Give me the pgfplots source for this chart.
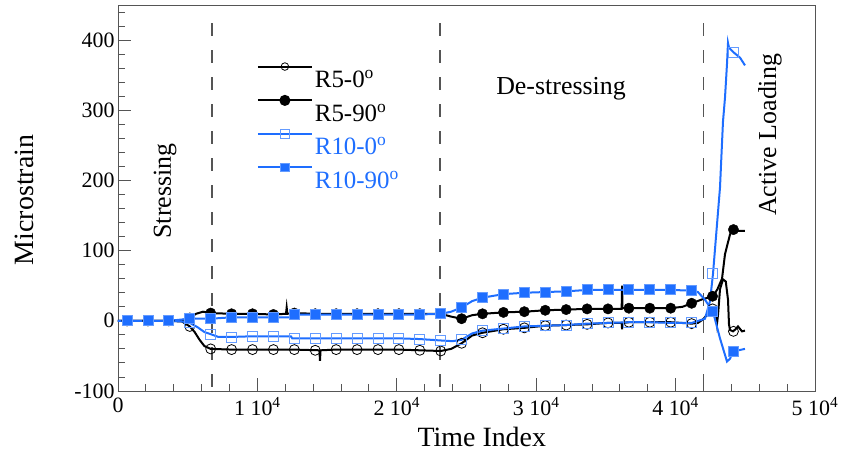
\documentclass[border=0pt]{standalone}
\usepackage{fontspec}
\setmainfont{Liberation Serif}
\usepackage{pgfplots}
\pgfplotsset{compat=1.18}
\definecolor{myblue}{RGB}{30,110,255}
\definecolor{lblue}{RGB}{100,155,255}
\definecolor{axgray}{RGB}{85,85,85}
\begin{document}
\begin{tikzpicture}
\begin{axis}[
  scale only axis, width=697bp, height=386bp,
  xmin=0, xmax=50000, ymin=-100, ymax=450,
  axis line style={axgray, line width=0.9bp},
  xtick={0,10000,20000,30000,40000,50000},
  xticklabels={0, 1 10\textsuperscript{4}, 2 10\textsuperscript{4}, 3 10\textsuperscript{4}, 4 10\textsuperscript{4}, 5 10\textsuperscript{4}},
  ytick={-100,0,100,200,300,400},
  yticklabels={-100,0,100,200,300,400},
  minor xtick={2000,4000,...,48000},
  minor ytick={-80,-60,...,440},
  xtick pos=bottom, ytick pos=left,
  tick align=inside,
  major tick length=13bp, minor tick length=7bp,
  tick style={axgray, line width=0.9bp},
  ticklabel style={font=\fontsize{22}{26}\selectfont},
  xticklabel style={yshift=-3bp},
  scaled x ticks=false,
  xlabel={Time Index}, ylabel={Microstrain},
  label style={font=\fontsize{28}{32}\selectfont},
  xlabel style={at={(axis description cs:0.522,-0.119)}, anchor=center},
  ylabel style={at={(axis description cs:-0.134,0.495)}, anchor=center},
  legend style={draw=none, fill=none, at={(axis cs:9950,368)}, anchor=north west,
    font=\fontsize{25}{29}\selectfont, row sep=5bp, inner sep=0pt,
    /tikz/every even column/.append style={column sep=13bp}},
  legend cell align=left,
  legend image code/.code={\draw[#1, mark repeat=2, mark phase=2] plot coordinates {(0bp,13bp) (27bp,13bp) (54bp,13bp)};},
  clip=false,
]
\coordinate (SW) at (rel axis cs:0,0);
% dashed phase separators
\addplot[axgray, line width=1.2bp, dash pattern=on 13bp off 14bp, forget plot] coordinates {(6750,-94) (6750,437)};
\addplot[axgray, line width=1.2bp, dash pattern=on 13bp off 14bp, forget plot] coordinates {(23100,-94) (23100,437)};
\addplot[axgray, line width=1.2bp, dash pattern=on 13bp off 14bp, forget plot] coordinates {(42000,-94) (42000,437)};

% R5-0
\addplot[black, line width=2bp, forget plot] table[row sep=\\] {
x y \\ 0 0 \\ 650 0 \\ 2150 0 \\ 3650 0 \\ 4600 -1 \\ 5150 -8 \\ 5500 -16 \\ 5850 -27 \\ 6200 -36 \\ 6650 -40 \\
8150 -41 \\ 9650 -41 \\ 11150 -41 \\ 12650 -41 \\ 14450 -42 \\ 14490 -57 \\ 14530 -42 \\ 15650 -41 \\ 17150 -41 \\
18650 -41 \\ 20150 -41 \\ 21650 -42 \\ 23150 -43 \\ 23900 -40 \\ 24650 -32 \\ 25400 -21 \\ 26150 -17 \\ 27650 -12 \\
29150 -10 \\ 30650 -7 \\ 32150 -6 \\ 33650 -5 \\ 35150 -3 \\ 36130 -3 \\ 36160 -12 \\ 36190 -3 \\ 36650 -2 \\
38150 -2 \\ 39650 -2 \\ 41150 -4 \\ 41600 -3 \\ 41965 2 \\ 42400 12 \\ 42683 18 \\ 42900 9 \\ 42970 -4 \\
43050 10 \\ 43185 45 \\ 43400 59 \\ 43600 56 \\ 43760 30 \\ 43830 -5 \\ 43902 -13 \\ 44118 -15 \\ 44300 -12 \\
44476 -8 \\ 44763 -15 \\ 44978 -14 \\
};
\addplot[only marks, mark=o, mark size=5bp, mark options={black, line width=0.8bp}, forget plot] table[row sep=\\] {
x y \\ 650 0 \\ 2150 0 \\ 3650 0 \\ 5150 -8 \\ 6650 -40 \\ 8150 -41 \\ 9650 -41 \\ 11150 -41 \\ 12650 -41 \\
14150 -42 \\ 15650 -41 \\ 17150 -41 \\ 18650 -41 \\ 20150 -41 \\ 21650 -42 \\ 23150 -43 \\ 24650 -32 \\
26150 -17 \\ 27650 -12 \\ 29150 -10 \\ 30650 -7 \\ 32150 -6 \\ 33650 -5 \\ 35150 -3 \\ 36650 -2 \\ 38150 -2 \\
39650 -2 \\ 41150 -4 \\ 42650 17 \\ 44150 -15 \\
};

% R5-90
\addplot[black, line width=2bp, forget plot] table[row sep=\\] {
x y \\ 0 0 \\ 650 0 \\ 2150 0 \\ 3650 0 \\ 4600 1 \\ 5150 4 \\ 5600 10 \\ 6100 13 \\ 6650 11 \\ 8150 10 \\
9650 10 \\ 11150 9 \\ 12050 10 \\ 12100 19 \\ 12150 10 \\ 12650 11 \\ 14150 10 \\ 15650 10 \\ 17150 10 \\
18650 10 \\ 20150 10 \\ 21650 10 \\ 23150 10 \\ 23900 6 \\ 24650 3 \\ 25400 8 \\ 26150 10 \\ 27650 12 \\
29150 13 \\ 30650 15 \\ 32150 16 \\ 33650 17 \\ 35150 17 \\ 36130 17 \\ 36160 50 \\ 36190 18 \\ 36650 18 \\
38150 18 \\ 39650 18 \\ 40500 20 \\ 41150 25 \\ 41965 31 \\ 42683 35 \\ 43000 45 \\ 43330 60 \\ 43544 95 \\
43902 123 \\ 44118 130 \\ 44400 128 \\ 44978 128 \\
};
\addplot[only marks, mark=*, mark size=5.2bp, mark options={black}, forget plot] table[row sep=\\] {
x y \\ 650 0 \\ 2150 0 \\ 3650 0 \\ 5150 4 \\ 6650 11 \\ 8150 10 \\ 9650 10 \\ 11150 9 \\ 12650 11 \\
14150 10 \\ 15650 10 \\ 17150 10 \\ 18650 10 \\ 20150 10 \\ 21650 10 \\ 23150 10 \\ 24650 3 \\ 26150 10 \\
27650 12 \\ 29150 13 \\ 30650 15 \\ 32150 16 \\ 33650 17 \\ 35150 17 \\ 36650 18 \\ 38150 18 \\ 39650 18 \\
41150 25 \\ 42650 35 \\ 44150 130 \\
};

% R10-0
\addplot[myblue, line width=2bp, forget plot] table[row sep=\\] {
x y \\ 0 0 \\ 650 0 \\ 2150 0 \\ 3650 0 \\ 4600 -1 \\ 5150 -3 \\ 5700 -9 \\ 6200 -16 \\ 6650 -19 \\ 7200 -23 \\
8150 -23 \\ 9650 -22 \\ 11150 -22 \\ 12400 -22 \\ 12500 -25 \\ 14150 -25 \\ 15650 -25 \\ 17150 -25 \\
18650 -25 \\ 20150 -25 \\ 21650 -26 \\ 23150 -28 \\ 24000 -29 \\ 24650 -27 \\ 25400 -18 \\ 26150 -14 \\
27650 -11 \\ 29150 -8 \\ 30650 -7 \\ 32150 -6 \\ 33650 -4 \\ 35150 -3 \\ 36650 -2 \\ 38150 -2 \\ 39650 -3 \\
41150 -3 \\ 42109 3 \\ 42468 28 \\ 42683 67 \\ 43185 190 \\ 43400 284 \\ 43544 318 \\ 43687 366 \\
43759 396 \\ 43831 389 \\ 44190 382 \\ 44620 375 \\ 44978 364 \\
};
\addplot[only marks, mark=square, mark size=5bp, mark options={lblue, line width=0.9bp}, forget plot] table[row sep=\\] {
x y \\ 650 0 \\ 2150 0 \\ 3650 0 \\ 5150 -3 \\ 6650 -19 \\ 8150 -23 \\ 9650 -22 \\ 11150 -22 \\ 12650 -25 \\
14150 -25 \\ 15650 -25 \\ 17150 -25 \\ 18650 -25 \\ 20150 -25 \\ 21650 -26 \\ 23150 -28 \\ 24650 -27 \\
26150 -14 \\ 27650 -11 \\ 29150 -8 \\ 30650 -7 \\ 32150 -6 \\ 33650 -4 \\ 35150 -3 \\ 36650 -2 \\ 38150 -2 \\
39650 -3 \\ 41150 -3 \\ 42650 67 \\ 44150 383 \\
};

% R10-90
\addplot[myblue, line width=2bp, forget plot] table[row sep=\\] {
x y \\ 0 0 \\ 650 0 \\ 2150 0 \\ 3650 0 \\ 5150 3 \\ 6650 3 \\ 8150 5 \\ 9650 5 \\ 11150 5 \\ 12400 5 \\
12500 9 \\ 14150 9 \\ 15650 9 \\ 17150 9 \\ 18650 9 \\ 20150 9 \\ 21650 9 \\ 23150 10 \\ 23900 13 \\
24650 19 \\ 25400 28 \\ 26150 33 \\ 27650 38 \\ 29150 40 \\ 30650 41 \\ 32150 42 \\ 33650 44 \\ 35150 44 \\
36650 44 \\ 38150 44 \\ 39650 44 \\ 41150 43 \\ 41600 41 \\ 42109 30 \\ 42683 13 \\ 43185 -25 \\ 43687 -58 \\
43902 -54 \\ 44118 -44 \\ 44500 -42 \\ 44978 -40 \\
};
\addplot[only marks, mark=square*, mark size=5bp, mark options={draw=lblue, fill=myblue, line width=0.9bp}, forget plot] table[row sep=\\] {
x y \\ 650 0 \\ 2150 0 \\ 3650 0 \\ 5150 3 \\ 6650 3 \\ 8150 5 \\ 9650 5 \\ 11150 5 \\ 12650 9 \\
14150 9 \\ 15650 9 \\ 17150 9 \\ 18650 9 \\ 20150 9 \\ 21650 9 \\ 23150 10 \\ 24650 19 \\ 26150 33 \\
27650 38 \\ 29150 40 \\ 30650 41 \\ 32150 42 \\ 33650 44 \\ 35150 44 \\ 36650 44 \\ 38150 44 \\ 39650 44 \\
41150 43 \\ 42650 13 \\ 44150 -43 \\
};

\addlegendimage{black, line width=2bp, mark=o, mark size=3.8bp, mark options={black, fill=white, line width=0.8bp}}
\addlegendentry{R5-0\textsuperscript{o}}
\addlegendimage{black, line width=2bp, mark=*, mark size=4.5bp}
\addlegendentry{R5-90\textsuperscript{o}}
\addlegendimage{myblue, line width=2bp, mark=square, mark size=4.2bp, mark options={lblue, fill=white, line width=0.9bp}}
\addlegendentry{\textcolor{myblue}{R10-0\textsuperscript{o}}}
\addlegendimage{myblue, line width=2bp, mark=square*, mark size=4.2bp, mark options={draw=lblue, fill=myblue, line width=0.9bp}}
\addlegendentry{\textcolor{myblue}{R10-90\textsuperscript{o}}}

\node[rotate=90, font=\fontsize{26}{30}\selectfont] at (axis cs:3370,185) {Stressing};
\node[font=\fontsize{26}{30}\selectfont] at (axis cs:31780,330) {De-stressing};
\node[rotate=90, font=\fontsize{26}{30}\selectfont] at (axis cs:46770,265) {Active Loading};
\end{axis}
\pgfresetboundingbox
\path (SW) ++(-118bp,-67bp) rectangle ++(846bp,458bp);
\end{tikzpicture}
\end{document}
